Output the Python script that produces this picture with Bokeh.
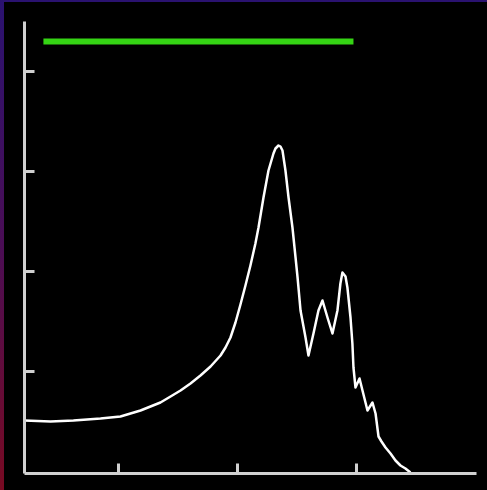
from bokeh.plotting import figure
from bokeh.models import Range1d, FixedTicker
from bokeh.embed import file_html
from bokeh.resources import INLINE

# Spectrum (arbitrary units)
energy = [0.206, 0.425, 0.618, 0.846, 1.014, 1.183, 1.267, 1.351, 1.436, 1.520,
          1.604, 1.688, 1.773, 1.857, 1.899, 1.941, 1.983, 2.025, 2.067, 2.109,
          2.151, 2.177, 2.219, 2.261, 2.303, 2.320, 2.345, 2.362, 2.379, 2.404,
          2.430, 2.463, 2.489, 2.506, 2.531, 2.573, 2.598, 2.640, 2.682, 2.716,
          2.758, 2.800, 2.842, 2.867, 2.884, 2.910, 2.926, 2.952, 2.968, 2.977,
          2.994, 3.028, 3.053, 3.095, 3.137, 3.163, 3.188, 3.213, 3.247, 3.289,
          3.331, 3.373, 3.415, 3.457]
intensity = [0.51, 0.50, 0.51, 0.53, 0.55, 0.61, 0.65, 0.69, 0.75, 0.81,
             0.88, 0.96, 1.05, 1.16, 1.24, 1.34, 1.49, 1.67, 1.86, 2.06,
             2.28, 2.44, 2.74, 3.01, 3.18, 3.23, 3.26, 3.25, 3.21, 3.01,
             2.74, 2.44, 2.14, 1.94, 1.61, 1.34, 1.16, 1.38, 1.61, 1.71,
             1.54, 1.38, 1.61, 1.88, 1.99, 1.95, 1.84, 1.54, 1.28, 1.04,
             0.84, 0.93, 0.81, 0.61, 0.69, 0.58, 0.35, 0.30, 0.24, 0.18,
             0.11, 0.06, 0.03, -0.01]

# Horizontal reference bar
bar_x = [0.365, 2.977]
bar_y = [4.30, 4.30]

x_ticks = [1, 2, 3]
y_ticks = [1, 2, 3, 4]

p = figure(width=487, height=490, output_backend="svg", toolbar_location=None,
           x_range=Range1d(0.2056, 4.0135), y_range=Range1d(-0.02, 4.5),
           min_border_left=24, min_border_right=11,
           min_border_top=21, min_border_bottom=17)

p.background_fill_color = "black"
p.border_fill_color = None
p.outline_line_color = None
p.styles = {
    "background": "linear-gradient(#000, #000) 4px 2px / calc(100% - 4px) calc(100% - 2px) no-repeat, "
                  "linear-gradient(180deg, #2a1270 0%, #4a0d55 50%, #780a22 100%)"
}
p.grid.visible = False

for ax, ticks in ((p.xaxis, x_ticks), (p.yaxis, y_ticks)):
    ax.ticker = FixedTicker(ticks=ticks)
    ax.minor_tick_line_color = None
    ax.major_tick_in = 10
    ax.major_tick_out = 0
    ax.major_tick_line_color = "#d0d0d0"
    ax.major_tick_line_width = 3
    ax.axis_line_color = "#d0d0d0"
    ax.axis_line_width = 3
    ax.major_label_text_font_size = "0px"
    ax.major_label_standoff = 0
    ax.major_label_overrides = {t: "" for t in ticks}

p.line(bar_x, bar_y, line_color="#35d414", line_width=6, line_cap="butt")
p.line(energy, intensity, line_color="white", line_width=2.5, line_join="round")

open("out.html", "w").write(file_html(p, INLINE))
